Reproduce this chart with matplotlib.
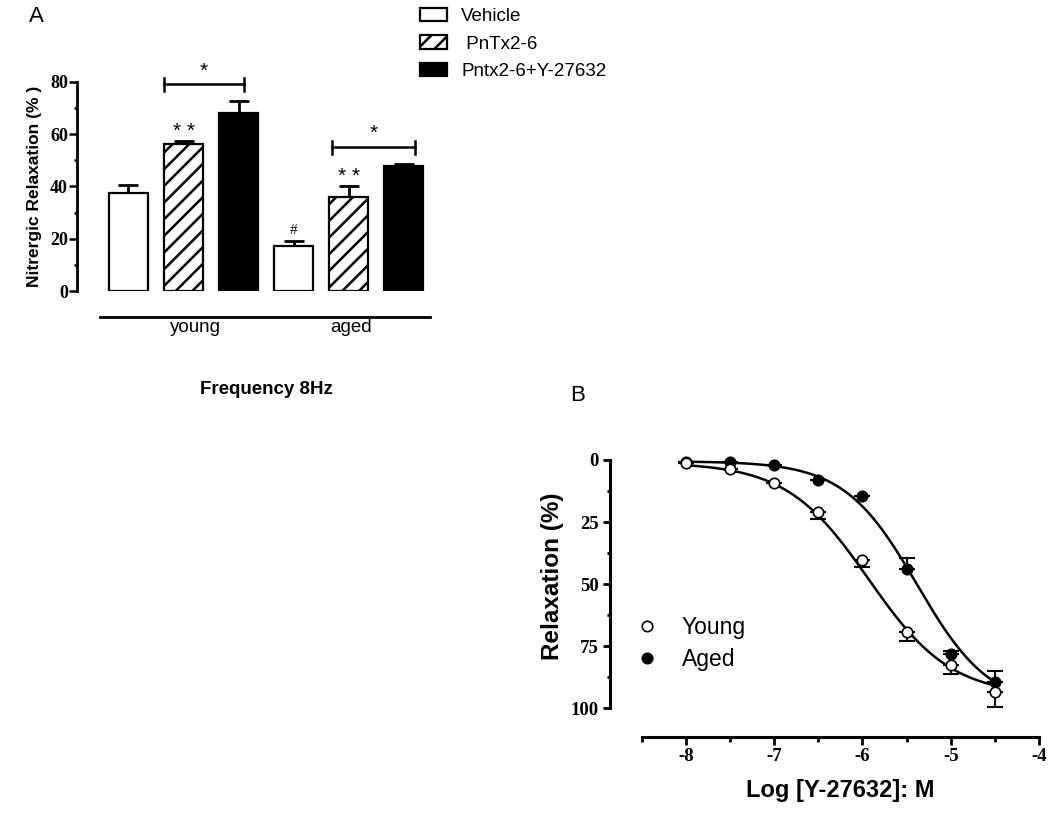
import numpy as np
import matplotlib
matplotlib.use("Agg")
import matplotlib.pyplot as plt
from matplotlib.patches import Patch
from matplotlib.lines import Line2D
from matplotlib.ticker import MultipleLocator

plt.rcParams['font.family'] = ['Liberation Sans', 'DejaVu Sans']
plt.rcParams['hatch.linewidth'] = 1.8
plt.rcParams['axes.unicode_minus'] = False

# Panel A data: nitrergic relaxation at 8 Hz
groups = ['young', 'aged']
treatments = ['Vehicle', ' PnTx2-6', 'Pntx2-6+Y-27632']
young_mean = [37.5, 56.2, 67.9]
young_err = [3.1, 1.2, 4.9]
aged_mean = [17.2, 36.1, 47.6]
aged_err = [1.8, 4.1, 1.0]

# Panel B data: Y-27632 concentration-response
log_conc = [-8, -7.5, -7, -6.5, -6, -5.5, -5, -4.5]
young_resp = [1.3, 3.8, 9.4, 20.9, 40.4, 69.3, 82.5, 93.3]
young_sem = [0, 0, 0, 3.0, 2.8, 3.7, 3.5, 6.0]
aged_resp = [1.0, 0.7, 2.0, 8.0, 14.5, 43.7, 78.0, 89.5]
aged_sem = [0, 0, 0, 0, 0, 4.4, 1.0, 4.5]
# sigmoidal fits (bottom, top, logEC50, hill slope)
young_fit = (1.0, 95.0, -5.93, 0.93)
aged_fit = (0.5, 100.0, -5.38, 1.05)

W, H = 1050, 819
fig = plt.figure(figsize=(W / 100, H / 100), dpi=100)

# ---------------- Panel A ----------------
axA = fig.add_axes([77 / W, 1 - 291 / H, (430 - 77) / W, (291 - 81.7) / H])
means = young_mean + aged_mean
errs = young_err + aged_err
pos = np.arange(6)
faces = ['white', 'white', 'black'] * 2
hatches = ['', '//', ''] * 2
bars = axA.bar(pos, means, width=0.7, color=faces, edgecolor='black',
               linewidth=1.6, hatch=hatches, zorder=2)
axA.errorbar(pos, means, yerr=[np.zeros(6), errs], fmt='none', ecolor='black',
             elinewidth=2, capsize=7, capthick=2, zorder=1)
axA.set_xlim(-0.936, 5.48)
axA.set_ylim(0, 80)
axA.spines['top'].set_visible(False)
axA.spines['right'].set_visible(False)
axA.spines['left'].set_linewidth(2)
axA.spines['bottom'].set_linewidth(2)
axA.spines['bottom'].set_position(('outward', 18.5))
axA.spines['bottom'].set_bounds(-0.52, 5.48)
axA.set_yticks([0, 20, 40, 60, 80])
axA.yaxis.set_minor_locator(MultipleLocator(10))
axA.tick_params(axis='y', which='major', length=6, width=1.8, pad=0.5)
axA.tick_params(axis='y', which='minor', length=2.5, width=1.8)
for lab in axA.get_yticklabels():
    lab.set_family('Liberation Serif')
    lab.set_fontweight('bold')
    lab.set_fontsize(13)
axA.set_xticks([1.22, 4.05])
axA.set_xticklabels(groups, fontsize=13.5)
axA.tick_params(axis='x', length=0, pad=2)
axA.set_ylabel('Nitrergic Relaxation (% )', fontsize=12.5, fontweight='bold', labelpad=6)

# significance marks
axA.plot([0.65, 2.1], [79.1, 79.1], color='black', lw=1.8, clip_on=False)
axA.plot([0.65, 0.65], [76.5, 81.4], color='black', lw=1.8, clip_on=False)
axA.plot([2.1, 2.1], [76.5, 81.4], color='black', lw=1.8, clip_on=False)
axA.text(1.37, 80.5, '*', ha='center', va='bottom', fontsize=15)
axA.plot([3.7, 5.2], [55, 55], color='black', lw=1.8, clip_on=False)
axA.plot([3.7, 3.7], [52.4, 57.3], color='black', lw=1.8, clip_on=False)
axA.plot([5.2, 5.2], [52.4, 57.3], color='black', lw=1.8, clip_on=False)
axA.text(4.45, 56.5, '*', ha='center', va='bottom', fontsize=15)
axA.text(1, 57.5, '* *', ha='center', va='bottom', fontsize=15)
axA.text(4, 40, '* *', ha='center', va='bottom', fontsize=15)
axA.text(3, 20.5, '#', ha='center', va='bottom', fontsize=11, family='Liberation Serif')

fig.text(266 / W, 1 - 390 / H, 'Frequency 8Hz', ha='center', va='center',
         fontsize=13.5, fontweight='bold')
fig.text(36 / W, 1 - 16 / H, 'A', ha='center', va='center', fontsize=16)

handles = [Patch(facecolor=f, edgecolor='black', linewidth=1.6, hatch=h)
           for f, h in zip(faces[:3], hatches[:3])]
fig.legend(handles, treatments, loc='upper left', bbox_to_anchor=(420 / W, 1 - 8 / H),
           frameon=False, fontsize=13.5, handlelength=1.45, handleheight=0.7,
           handletextpad=0.75, labelspacing=0.55, borderpad=0, borderaxespad=0)

# ---------------- Panel B ----------------
axB = fig.add_axes([641.7 / W, 1 - 708.3 / H, (1039 - 641.7) / W, (708.3 - 460) / H])
xfit = np.linspace(-8, -4.5, 300)
for (b, t, ec, hs) in (young_fit, aged_fit):
    yfit = b + (t - b) / (1 + 10 ** ((ec - xfit) * hs))
    axB.plot(xfit, yfit, color='black', lw=1.8, zorder=2, clip_on=False)
axB.errorbar(log_conc, young_resp, yerr=[np.zeros(8), young_sem], fmt='none',
             ecolor='black', elinewidth=1.5, capsize=6, capthick=1.5, zorder=1,
             clip_on=False)
axB.errorbar(log_conc, aged_resp, yerr=[aged_sem, np.zeros(8)], fmt='none',
             ecolor='black', elinewidth=1.5, capsize=6, capthick=1.5, zorder=1,
             clip_on=False)
axB.plot(log_conc, aged_resp, 'o', ms=7.5, mfc='black', mec='black', mew=1.2,
         zorder=3, clip_on=False)
axB.plot(log_conc, young_resp, 'o', ms=7.5, mfc='white', mec='black', mew=1.2,
         zorder=4, clip_on=False)
axB.set_xlim(-8.5, -4)
axB.set_ylim(100, 0)
axB.spines['top'].set_visible(False)
axB.spines['right'].set_visible(False)
axB.spines['left'].set_linewidth(2.2)
axB.spines['bottom'].set_linewidth(2.2)
axB.spines['left'].set_position(('outward', 22.7))
axB.spines['bottom'].set_position(('outward', 20.4))
axB.set_xticks([-8, -7, -6, -5, -4])
axB.xaxis.set_minor_locator(MultipleLocator(0.5))
axB.set_yticks([0, 25, 50, 75, 100])
axB.yaxis.set_minor_locator(MultipleLocator(12.5))
axB.tick_params(axis='x', which='major', length=6, width=2, pad=2)
axB.tick_params(axis='x', which='minor', length=3.6, width=2)
axB.tick_params(axis='y', which='major', length=5, width=2, pad=3)
axB.tick_params(axis='y', which='minor', length=2, width=2)
for lab in axB.get_xticklabels() + axB.get_yticklabels():
    lab.set_family('Liberation Serif')
    lab.set_fontweight('bold')
    lab.set_fontsize(13.5)
axB.set_ylabel('Relaxation (%)', fontsize=17.5, fontweight='bold')
axB.yaxis.set_label_coords(-0.195, 0.53)
axB.set_xlabel('Log [Y-27632]: M', fontsize=17, fontweight='bold', labelpad=10)
fig.text(578 / W, 1 - 395 / H, 'B', ha='center', va='center', fontsize=16)

leg_h = [Line2D([], [], ls='none', marker='o', ms=7.5, mfc='white', mec='black', mew=1.2),
         Line2D([], [], ls='none', marker='o', ms=7.5, mfc='black', mec='black', mew=1.2)]
fig.legend(leg_h, ['Young', 'Aged'], loc='upper left', bbox_to_anchor=(636 / W, 1 - 616 / H),
           frameon=False, fontsize=16.5, handlelength=1.0, handletextpad=1.0,
           labelspacing=0.38, borderpad=0, borderaxespad=0)

fig.savefig('out.png', dpi=100)
